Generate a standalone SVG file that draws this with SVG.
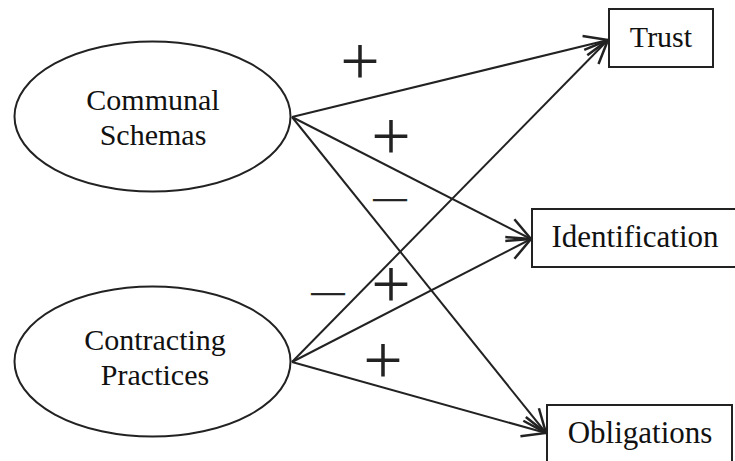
<svg xmlns="http://www.w3.org/2000/svg" width="735" height="461" viewBox="0 0 735 461">
<style>
.shape{fill:#fff;stroke:#222;stroke-width:2}
.lbl{font-family:"Liberation Serif","Times New Roman",serif;font-size:30px;fill:#111;text-anchor:middle}
.big{font-size:31px}
.sign{font-family:"Liberation Serif","Times New Roman",serif;font-size:70px;fill:#222;text-anchor:middle}
.dash{font-family:"Liberation Serif","Times New Roman",serif;font-size:33px;fill:#222;stroke:#222;stroke-width:0.7;text-anchor:middle}
.edge{stroke:#222;stroke-width:2;fill:none;marker-end:url(#arr)}
</style>
<defs>
<marker id="arr" markerUnits="userSpaceOnUse" markerWidth="30" markerHeight="30" refX="0" refY="0" viewBox="-22 -11 24 22" orient="auto">
<path d="M-19,-8 L0,0 L-19,8" fill="none" stroke="#222" stroke-width="2"/>
</marker>
</defs>
<rect width="735" height="461" fill="#fff"/>
<g id="connectors">
<line class="edge" x1="292" y1="117" x2="608" y2="40"/>
<line class="edge" x1="292" y1="117" x2="531" y2="239"/>
<line class="edge" x1="292" y1="117" x2="546" y2="433"/>
<line class="edge" x1="292" y1="362" x2="608" y2="40"/>
<line class="edge" x1="292" y1="362" x2="531" y2="239"/>
<line class="edge" x1="292" y1="362" x2="546" y2="433"/>
</g>
<g id="communal">
<ellipse class="shape" cx="152.5" cy="116.5" rx="138" ry="75"/>
<text class="lbl" x="153" y="110">Communal</text>
<text class="lbl" x="153" y="145">Schemas</text>
</g>
<g id="contracting">
<ellipse class="shape" cx="152.5" cy="361.5" rx="138" ry="75"/>
<text class="lbl" x="155" y="350">Contracting</text>
<text class="lbl" x="155" y="385">Practices</text>
</g>
<g id="trust">
<rect class="shape" x="609" y="9" width="104" height="58"/>
<text class="lbl" x="661" y="47">Trust</text>
</g>
<g id="identification">
<rect class="shape" x="532" y="209" width="210" height="58"/>
<text class="lbl big" x="635" y="247">Identification</text>
</g>
<g id="obligations">
<rect class="shape" x="547" y="405" width="185" height="70"/>
<text class="lbl big" x="640" y="443">Obligations</text>
</g>
<g id="signs">
<text class="sign" x="360" y="85">+</text>
<text class="sign" x="391" y="160">+</text>
<text class="dash" x="390" y="208">—</text>
<text class="sign" x="391" y="308">+</text>
<text class="dash" x="328" y="302">—</text>
<text class="sign" x="383" y="384">+</text>
</g>
</svg>
